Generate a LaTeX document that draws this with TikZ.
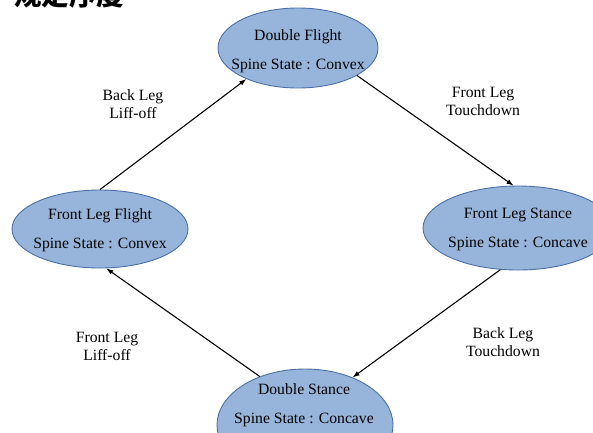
\documentclass[tikz,border=0pt]{standalone}
\usepackage{fontspec}
\setmainfont{Liberation Serif}
\newfontfamily\cjkfont{Noto Sans CJK SC}
\usetikzlibrary{shapes.geometric,arrows.meta}
\definecolor{statefill}{RGB}{151,181,219}
\definecolor{stateline}{RGB}{74,112,165}
\tikzset{
  state/.style={ellipse, draw=stateline, line width=0.9pt, fill=statefill, inner sep=0pt},
  statetext/.style={align=center, font=\fontsize{15.7}{29}\selectfont, inner sep=0pt},
  edgelabel/.style={align=center, font=\fontsize{15.7}{18}\selectfont, inner sep=0pt},
  trans/.style={-{Latex[length=7pt,width=5pt]}, line width=1.1pt, black},
}
\begin{document}
\begin{tikzpicture}[x=1pt,y=-1pt]
\useasboundingbox (0,0) rectangle (593,432);
\begin{scope}
\clip (0,0) rectangle (593,432);
% heading, cut by the top edge
\node[anchor=base west, inner sep=0pt, font=\cjkfont\bfseries\fontsize{27.5}{30}\selectfont] (head) at (14,5) {规定序度};

% states
\node[state, minimum width=160pt, minimum height=80pt] (df) at (298,48) {};
\node[statetext] (dft) at ([yshift=-3pt]df) {Double Flight\\Spine State : Convex};

\node[state, minimum width=190pt, minimum height=84pt] (fls) at (518,228) {};
\node[statetext] (flst) at ([yshift=-1pt]fls) {Front Leg Stance\\Spine State : Concave};

\node[state, minimum width=176pt, minimum height=78pt] (flf) at (100,229) {};
\node[statetext] (flft) at ([yshift=-1pt]flf) {Front Leg Flight\\Spine State : Convex};

\node[state, minimum width=176pt, minimum height=112pt] (ds) at (305,425) {};
\node[statetext] (dst) at (304,405) {Double Stance\\Spine State : Concave};

% transitions
\draw[trans] (df.-25) -- (fls.96);
\draw[trans] (fls.247) -- (ds.45);
\draw[trans] (ds.133) -- (flf.279);
\draw[trans] (flf.90) -- (df.211);

% transition labels
\node[edgelabel] (l1) at (483,101) {Front Leg\\Touchdown};
\node[edgelabel] (l2) at (503,342) {Back Leg\\Touchdown};
\node[edgelabel] (l3) at (107,346) {Front Leg\\Liff-off};
\node[edgelabel] (l4) at (133,104) {Back Leg\\Liff-off};
\end{scope}
\end{tikzpicture}
\end{document}
